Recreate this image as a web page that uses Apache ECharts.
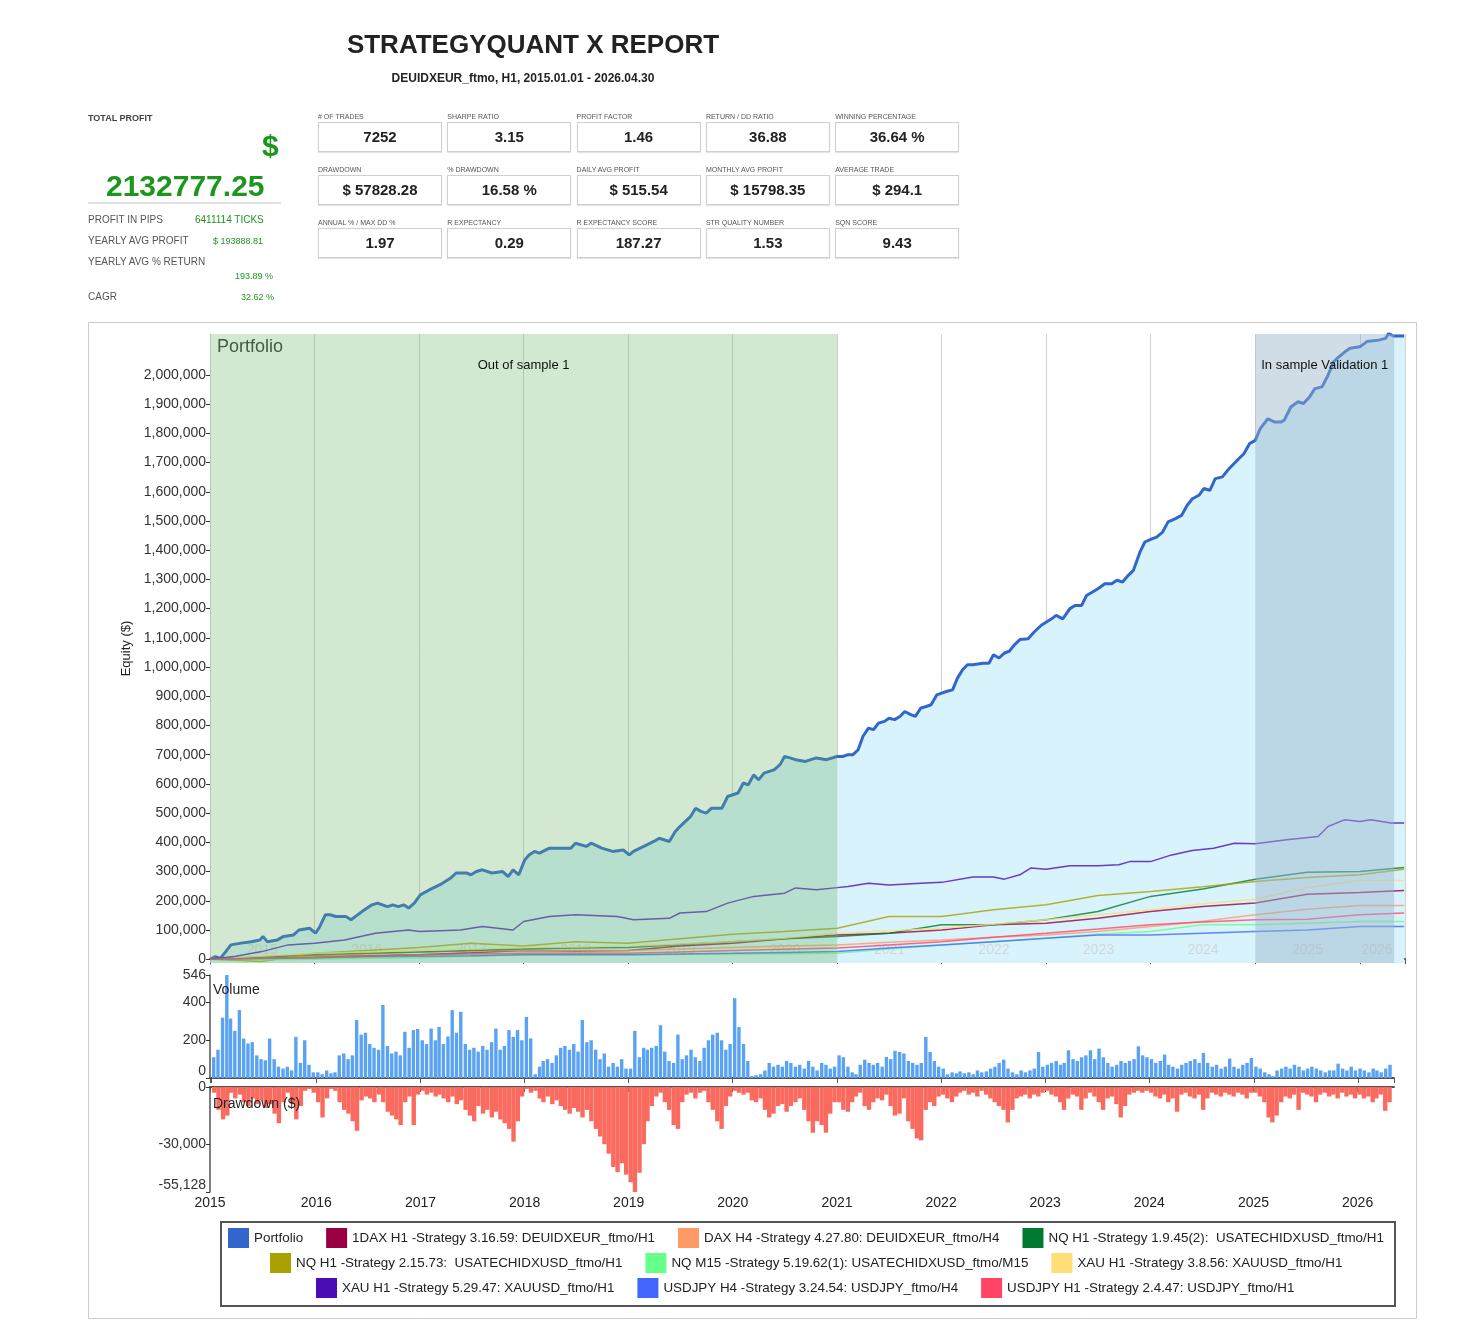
<!DOCTYPE html>
<html>
<head>
<meta charset="utf-8">
<script src="https://cdn.jsdelivr.net/npm/echarts@6/dist/echarts.min.js"></script>
<style>
body { margin: 0; background: #fff; font-family: "Liberation Sans", Arial, sans-serif; }
#main { position: absolute; left: 0; top: 0; width: 1480px; height: 1330px; }
#head { position: absolute; left: 0; top: 0; width: 1480px; height: 320px; z-index: 2; color: #333; }
#head div { position: absolute; white-space: nowrap; }
.green { color: #1e961e; }
.lbl { font-size: 7px; color: #555; }
.box { border: 1px solid #cfcfcf; box-shadow: 0 1px 1px #e4e4e4; text-align: center; font-weight: bold; font-size: 15px; line-height: 28px; color: #222; }
.small { font-size: 10px; color: #555; }
</style>
</head>
<body>
<div id="head"></div>
<div id="main"></div>
<script>
// ---- report numbers ----
const statLabels = [
    ['# OF TRADES', 'SHARPE RATIO', 'PROFIT FACTOR', 'RETURN / DD RATIO', 'WINNING PERCENTAGE'],
    ['DRAWDOWN', '% DRAWDOWN', 'DAILY AVG PROFIT', 'MONTHLY AVG PROFIT', 'AVERAGE TRADE'],
    ['ANNUAL % / MAX DD %', 'R EXPECTANCY', 'R EXPECTANCY SCORE', 'STR QUALITY NUMBER', 'SQN SCORE']
];
const statValues = [
    ['7252', '3.15', '1.46', '36.88', '36.64 %'],
    ['$ 57828.28', '16.58 %', '$ 515.54', '$ 15798.35', '$ 294.1'],
    ['1.97', '0.29', '187.27', '1.53', '9.43']
];

// ---- equity curves ----
const portfolio = [
    ['2015-01-02', 0], ['2015-01-20', 9000], ['2015-02-06', 3000], ['2015-02-25', 26000], ['2015-03-15', 49000],
    ['2015-04-20', 55000], ['2015-05-25', 60000], ['2015-06-25', 66000], ['2015-07-05', 78000], ['2015-07-20', 60000],
    ['2015-08-25', 66000], ['2015-09-15', 78000], ['2015-10-20', 83000], ['2015-11-08', 100000], ['2015-12-15', 106000],
    ['2016-01-05', 89000], ['2016-01-20', 112000], ['2016-02-08', 152000], ['2016-02-25', 152000], ['2016-03-15', 146000],
    ['2016-04-20', 146000], ['2016-05-08', 135000], ['2016-06-15', 163000], ['2016-07-20', 186000], ['2016-08-08', 192000],
    ['2016-09-12', 180000], ['2016-10-01', 186000], ['2016-10-20', 180000], ['2016-11-08', 186000], ['2016-11-25', 175000],
    ['2016-12-15', 192000], ['2017-01-05', 220000], ['2017-02-05', 237000], ['2017-03-15', 255000], ['2017-04-20', 277000],
    ['2017-05-10', 295000], ['2017-06-15', 295000], ['2017-07-01', 289000], ['2017-07-20', 300000], ['2017-08-10', 306000],
    ['2017-09-12', 295000], ['2017-10-20', 300000], ['2017-11-08', 283000], ['2017-11-25', 306000], ['2017-12-15', 289000],
    ['2018-01-05', 340000], ['2018-01-20', 357000], ['2018-02-08', 369000], ['2018-02-25', 363000], ['2018-04-01', 380000],
    ['2018-05-08', 380000], ['2018-06-15', 380000], ['2018-07-01', 397000], ['2018-08-08', 386000], ['2018-08-25', 397000],
    ['2018-10-01', 380000], ['2018-11-08', 369000], ['2018-12-15', 374000], ['2019-01-05', 357000], ['2019-01-20', 369000],
    ['2019-02-25', 386000], ['2019-04-01', 403000], ['2019-04-20', 414000], ['2019-05-25', 403000], ['2019-06-15', 437000],
    ['2019-07-01', 454000], ['2019-08-08', 489000], ['2019-08-25', 517000], ['2019-09-12', 506000], ['2019-10-01', 500000],
    ['2019-10-20', 517000], ['2019-11-25', 517000], ['2019-12-15', 557000], ['2020-01-20', 569000], ['2020-02-08', 603000],
    ['2020-02-25', 597000], ['2020-03-15', 631000], ['2020-04-01', 614000], ['2020-04-20', 637000], ['2020-05-25', 648000],
    ['2020-06-15', 666000], ['2020-07-01', 694000], ['2020-07-20', 689000], ['2020-08-08', 683000], ['2020-09-12', 677000],
    ['2020-10-20', 689000], ['2020-11-25', 683000], ['2020-12-31', 694000], ['2021-01-20', 694000], ['2021-02-08', 700000],
    ['2021-02-25', 700000], ['2021-03-15', 717000], ['2021-04-01', 763000], ['2021-04-20', 791000], ['2021-05-08', 786000],
    ['2021-05-25', 808000], ['2021-06-15', 814000], ['2021-07-01', 825000], ['2021-07-20', 820000], ['2021-08-08', 831000],
    ['2021-08-25', 848000], ['2021-09-15', 837000], ['2021-10-01', 831000], ['2021-10-20', 860000], ['2021-11-08', 865000],
    ['2021-11-25', 871000], ['2021-12-15', 905000], ['2022-01-01', 911000], ['2022-01-20', 917000], ['2022-02-08', 922000],
    ['2022-02-25', 962000], ['2022-03-15', 991000], ['2022-04-01', 1008000], ['2022-04-20', 1008000], ['2022-05-25', 1013000],
    ['2022-06-15', 1013000], ['2022-07-01', 1042000], ['2022-07-20', 1031000], ['2022-08-08', 1048000], ['2022-08-25', 1054000],
    ['2022-09-12', 1076000], ['2022-10-01', 1094000], ['2022-10-30', 1097000], ['2022-11-20', 1120000], ['2022-12-15', 1143000],
    ['2023-01-20', 1165000], ['2023-02-05', 1177000], ['2023-02-28', 1165000], ['2023-03-25', 1200000], ['2023-04-12', 1211000],
    ['2023-05-05', 1211000], ['2023-05-22', 1245000], ['2023-06-12', 1257000], ['2023-07-01', 1268000], ['2023-07-25', 1285000],
    ['2023-08-18', 1285000], ['2023-09-05', 1297000], ['2023-09-25', 1291000], ['2023-10-15', 1314000], ['2023-11-02', 1331000],
    ['2023-11-25', 1394000], ['2023-12-12', 1428000], ['2024-01-05', 1439000], ['2024-01-22', 1445000], ['2024-02-12', 1462000],
    ['2024-03-02', 1497000], ['2024-03-28', 1508000], ['2024-04-18', 1519000], ['2024-05-08', 1554000], ['2024-05-26', 1576000],
    ['2024-06-18', 1588000], ['2024-07-05', 1611000], ['2024-07-26', 1605000], ['2024-08-14', 1645000], ['2024-09-08', 1651000],
    ['2024-10-01', 1679000], ['2024-10-18', 1696000], ['2024-11-10', 1719000], ['2024-11-22', 1730000], ['2024-12-12', 1765000],
    ['2025-01-01', 1776000], ['2025-01-18', 1816000], ['2025-02-14', 1850000], ['2025-03-08', 1839000], ['2025-04-01', 1839000],
    ['2025-04-12', 1845000], ['2025-05-05', 1890000], ['2025-05-30', 1908000], ['2025-06-18', 1902000], ['2025-07-10', 1925000],
    ['2025-07-28', 1953000], ['2025-08-22', 1959000], ['2025-09-12', 1999000], ['2025-10-01', 2045000], ['2025-10-20', 2062000],
    ['2025-11-10', 2079000], ['2025-11-28', 2091000], ['2026-01-01', 2096000], ['2026-01-26', 2114000], ['2026-03-08', 2119000],
    ['2026-04-01', 2125000], ['2026-04-12', 2142000], ['2026-04-28', 2133000], ['2026-06-05', 2133000]
];

const halfYearDates = ['2015-01-01', '2015-07-01', '2016-01-01', '2016-07-01', '2017-01-01', '2017-07-01', '2018-01-01', '2018-07-01',
    '2019-01-01', '2019-07-01', '2020-01-01', '2020-07-01', '2021-01-01', '2021-07-01', '2022-01-01', '2022-07-01',
    '2023-01-01', '2023-07-01', '2024-01-01', '2024-07-01', '2025-01-01', '2025-07-01', '2026-01-01', '2026-06-05'];
const dax1H1 = [0, 5000, 10000, 12000, 15000, 22000, 30000, 28000, 30000, 45000, 55000, 70000, 83000, 89000, 100000, 118000, 123000, 140000, 163000, 180000, 192000, 222000, 228000, 235000];
const daxH4 = [0, 5000, 10000, 18000, 25000, 28000, 30000, 30000, 30000, 35000, 40000, 45000, 49000, 58000, 66000, 75000, 83000, 95000, 112000, 130000, 152000, 171000, 184000, 184000];
const nqH1a = [0, 8000, 15000, 20000, 25000, 30000, 35000, 38000, 40000, 50000, 60000, 70000, 78000, 89000, 118000, 118000, 135000, 163000, 215000, 240000, 274000, 298000, 300000, 314000];
const nqH1b = [0, -8000, 20000, 30000, 40000, 55000, 45000, 60000, 55000, 70000, 85000, 95000, 106000, 146000, 146000, 169000, 186000, 218000, 232000, 248000, 266000, 280000, 289000, 308000];
const nqM15 = [0, -2000, 0, 3000, 5000, 10000, 15000, 15000, 15000, 16000, 18000, 19000, 20000, 35000, 49000, 60000, 72000, 85000, 95000, 118000, 118000, 123000, 129000, 129000];
const xauH1a = [0, 10000, 20000, 25000, 30000, 35000, 40000, 42000, 45000, 52000, 60000, 72000, 89000, 97000, 106000, 120000, 135000, 152000, 169000, 190000, 205000, 245000, 269000, 269000];
const jpyH4 = [0, 2000, 5000, 8000, 10000, 12000, 15000, 15000, 15000, 18000, 20000, 23000, 26000, 38000, 49000, 60000, 72000, 83000, 83000, 89000, 95000, 100000, 112000, 112000];
const jpyH1 = [0, 3000, 5000, 10000, 15000, 18000, 20000, 20000, 20000, 25000, 30000, 34000, 38000, 49000, 60000, 75000, 89000, 103000, 118000, 127000, 135000, 137000, 152000, 158000];
const xauH1b = [
    ['2015-01-01', 0], ['2015-04-01', 10000], ['2015-07-01', 26000], ['2015-10-01', 49000], ['2016-01-01', 55000],
    ['2016-04-15', 66000], ['2016-08-01', 89000], ['2016-11-25', 100000], ['2017-01-01', 95000], ['2017-05-25', 100000],
    ['2017-08-10', 112000], ['2017-11-25', 100000], ['2018-01-01', 129000], ['2018-04-01', 146000], ['2018-07-01', 152000],
    ['2018-11-25', 146000], ['2019-01-20', 135000], ['2019-05-25', 140000], ['2019-07-01', 158000], ['2019-10-01', 163000],
    ['2019-12-15', 192000], ['2020-03-15', 215000], ['2020-07-01', 226000], ['2020-08-08', 244000], ['2020-10-20', 238000],
    ['2021-01-01', 245000], ['2021-02-08', 249000], ['2021-04-20', 260000], ['2021-07-01', 254000], ['2021-10-20', 260000],
    ['2022-01-01', 263000], ['2022-04-20', 281000], ['2022-07-01', 281000], ['2022-08-08', 274000], ['2022-10-01', 289000],
    ['2022-11-08', 312000], ['2023-01-01', 308000], ['2023-03-25', 320000], ['2023-07-01', 320000], ['2023-09-12', 323000],
    ['2023-10-20', 334000], ['2024-01-01', 334000], ['2024-03-15', 357000], ['2024-05-25', 372000], ['2024-08-08', 380000],
    ['2024-10-20', 397000], ['2025-01-01', 395000], ['2025-04-20', 409000], ['2025-08-08', 420000], ['2025-09-12', 454000],
    ['2025-11-08', 477000], ['2026-01-01', 471000], ['2026-02-08', 477000], ['2026-04-20', 466000], ['2026-06-05', 466000]
];

const seriesNames = ['Portfolio', '1DAX H1 -Strategy 3.16.59: DEUIDXEUR_ftmo/H1', 'DAX H4 -Strategy 4.27.80: DEUIDXEUR_ftmo/H4',
    'NQ H1 -Strategy 1.9.45(2):  USATECHIDXUSD_ftmo/H1', 'NQ H1 -Strategy 2.15.73:  USATECHIDXUSD_ftmo/H1',
    'NQ M15 -Strategy 5.19.62(1): USATECHIDXUSD_ftmo/M15', 'XAU H1 -Strategy 3.8.56: XAUUSD_ftmo/H1',
    'XAU H1 -Strategy 5.29.47: XAUUSD_ftmo/H1', 'USDJPY H4 -Strategy 3.24.54: USDJPY_ftmo/H4', 'USDJPY H1 -Strategy 2.4.47: USDJPY_ftmo/H1'];
const seriesColors = ['#3366cc', '#990044', '#ff9966', '#007a33', '#aaa000', '#66ff88', '#ffdd77', '#4a0cb4', '#4466ff', '#ff4466'];

// ---- volume / drawdown, two buckets per month from 2015-01 ----
const volume = [
    110, 150, 320, 546, 315, 250, 360, 209, 183, 190, 120, 100, 94, 209, 100, 60, 50, 60, 40, 218, 80, 200, 70, 30,
    30, 20, 40, 25, 30, 120, 130, 100, 120, 307, 230, 240, 180, 160, 150, 387, 170, 130, 140, 120, 245, 160, 254, 260,
    200, 180, 262, 200, 271, 180, 220, 360, 240, 351, 180, 150, 160, 140, 170, 150, 190, 262, 150, 170, 254, 218, 254, 200,
    324, 210, 20, 60, 90, 100, 80, 120, 160, 170, 150, 180, 140, 307, 190, 200, 150, 100, 130, 60, 80, 60, 100, 50,
    50, 250, 110, 160, 150, 160, 170, 280, 140, 90, 80, 230, 100, 120, 150, 110, 90, 160, 200, 230, 240, 200, 150, 180,
    423, 270, 180, 90, 10, 15, 20, 40, 80, 60, 70, 60, 90, 80, 60, 70, 50, 90, 60, 40, 80, 70, 50, 60,
    120, 110, 60, 30, 20, 70, 97, 80, 70, 80, 60, 112, 100, 144, 138, 130, 90, 80, 70, 80, 218, 138, 90, 60,
    50, 20, 30, 25, 35, 25, 30, 20, 40, 30, 35, 50, 60, 80, 97, 50, 30, 20, 40, 30, 40, 50, 138, 60,
    70, 80, 90, 70, 80, 147, 100, 90, 110, 120, 147, 100, 156, 110, 80, 60, 70, 90, 80, 90, 100, 168, 120, 110,
    100, 80, 90, 124, 70, 60, 50, 70, 80, 90, 100, 80, 133, 80, 60, 70, 50, 60, 103, 60, 50, 70, 80, 106,
    60, 50, 30, 20, 10, 40, 50, 60, 50, 70, 60, 40, 50, 60, 50, 40, 30, 40, 40, 76, 50, 40, 60, 40,
    50, 40, 30, 50, 40, 30, 50, 70
];
const drawdown = [
    -3000, -12000, -17000, -15000, -3000, -6000, -4000, -8000, -10000, -6000, -9000, -7000, -11000, -9000, -14000, -19000, -8000, -3000, -9000, -17000, -10000, -2000, -1000, -3000,
    -8000, -16000, -6000, -1000, -2000, -8000, -12000, -14000, -18000, -23000, -7000, -5000, -6000, -8000, -4000, -8000, -13000, -15000, -17000, -20000, -8000, -5000, -20000, -4000,
    -2000, -4000, -3000, -5000, -4000, -6000, -8000, -5000, -9000, -7000, -12000, -15000, -18000, -10000, -14000, -12000, -16000, -13000, -17000, -19000, -22000, -28700, -18000, -5000,
    -1000, -3000, -2000, -6000, -8000, -5000, -9000, -7000, -10000, -12000, -14000, -11000, -13000, -16000, -12000, -18000, -22000, -26000, -30000, -35000, -42000, -44700, -40000, -46000,
    -50000, -55128, -45000, -30000, -18000, -10000, -5000, -3000, -8000, -12000, -20000, -22000, -8000, -4000, -3000, -6000, -3000, -2000, -8000, -12000, -18000, -22000, -10000, -5000,
    -2000, -3000, -4000, -3000, -7000, -8000, -6000, -12000, -16000, -14000, -10000, -9000, -13000, -10000, -8000, -6000, -12000, -18000, -24000, -18000, -20000, -24000, -14000, -8000,
    -8000, -12000, -13000, -8000, -5000, -3000, -10000, -12000, -8000, -6000, -7000, -4000, -10000, -15000, -14000, -6000, -18000, -22000, -27000, -28000, -12000, -8000, -10000, -5000,
    -4000, -6000, -8000, -5000, -3000, -2000, -4000, -3000, -5000, -2000, -4000, -6000, -8000, -10000, -12000, -18600, -12000, -6000, -5000, -4000, -6000, -4000, -5000, -3000,
    -2000, -4000, -5000, -8000, -12000, -6000, -4000, -5000, -12000, -6000, -3000, -5000, -8000, -12000, -6000, -5000, -9000, -16000, -10000, -4000, -3000, -2000, -3000, -2000,
    -3000, -5000, -6000, -4000, -8000, -6000, -13000, -4000, -3000, -5000, -6000, -4000, -12000, -6000, -3000, -4000, -5000, -3000, -4000, -5000, -3000, -4000, -6000, -3000,
    -3000, -5000, -8000, -16000, -18600, -15000, -8000, -5000, -6000, -4000, -12000, -3000, -4000, -5000, -8000, -4000, -3000, -5000, -4000, -6000, -3000, -5000, -4000, -6000,
    -4000, -6000, -5000, -8000, -6000, -4000, -12500, -8000
];

const equityTicks = [0, 100000, 200000, 300000, 400000, 500000, 600000, 700000, 800000, 900000, 1000000,
    1100000, 1200000, 1300000, 1400000, 1500000, 1600000, 1700000, 1800000, 1900000, 2000000];
const volumeTicks = [0, 200, 400, 546];
const drawdownTicks = [-55128, -30000, 0];
const outOfSample = ['2015-01-01', '2021-01-01'];
const validation = ['2025-01-01', '2026-05-01'];

// ---- header ----
function put(html, css, cls) {
    let d = document.createElement('div');
    d.innerHTML = html;
    if (cls) d.className = cls;
    Object.assign(d.style, css);
    document.getElementById('head').appendChild(d);
}
put('STRATEGYQUANT X REPORT', {left: '233px', width: '600px', top: '29px', textAlign: 'center', fontSize: '26px', fontWeight: 'bold', color: '#222'});
put('DEUIDXEUR_ftmo, H1, 2015.01.01 - 2026.04.30', {left: '323px', width: '400px', top: '71px', textAlign: 'center', fontSize: '12px', fontWeight: 'bold', color: '#222'});
put('TOTAL PROFIT', {left: '88px', top: '113px', fontSize: '9px', fontWeight: 'bold', color: '#444'});
put('$', {left: '262px', top: '129px', fontSize: '30px', fontWeight: 'bold'}, 'green');
put('2132777.25', {left: '106px', top: '169px', fontSize: '30px', fontWeight: 'bold'}, 'green');
put('', {left: '88px', top: '202px', width: '193px', borderTop: '2px solid #e2e2e2'});
put('PROFIT IN PIPS', {left: '88px', top: '214px'}, 'small');
put('6411114 TICKS', {left: '195px', top: '214px', fontSize: '10px'}, 'green');
put('YEARLY AVG PROFIT', {left: '88px', top: '235px'}, 'small');
put('$ 193888.81', {left: '213px', top: '236px', fontSize: '9px'}, 'green');
put('YEARLY AVG % RETURN', {left: '88px', top: '256px'}, 'small');
put('193.89 %', {left: '203px', width: '70px', textAlign: 'right', top: '271px', fontSize: '9px'}, 'green');
put('CAGR', {left: '88px', top: '291px'}, 'small');
put('32.62 %', {left: '204px', width: '70px', textAlign: 'right', top: '292px', fontSize: '9px'}, 'green');
for (let r = 0; r < 3; r++) {
    for (let c = 0; c < 5; c++) {
        let x = 318 + c * 129.3;
        put(statLabels[r][c], {left: x + 'px', top: (113 + r * 53) + 'px'}, 'lbl');
        put(statValues[r][c], {left: x + 'px', top: (122 + r * 53) + 'px', width: '122px', height: '28px'}, 'box');
    }
}

// ---- chart ----
function halfMonthDate(i) {
    let y = 2015 + Math.floor(i / 24), m = Math.floor((i % 24) / 2) + 1;
    return y + '-' + String(m).padStart(2, '0') + (i % 2 ? '-23' : '-08');
}
const volData = volume.map((v, i) => [halfMonthDate(i), v]);
const ddData = drawdown.map((v, i) => [halfMonthDate(i), v]);

const strategyValues = [dax1H1, daxH4, nqH1a, nqH1b, nqM15, xauH1a, null, jpyH4, jpyH1];
const DAY = 24 * 3600 * 1000;
const font = '"Liberation Sans", Arial, sans-serif';

function timeAxis(gridIndex, max, showLabel) {
    return {
        type: 'time', gridIndex: gridIndex, min: '2015-01-01', max: max,
        minInterval: 365 * DAY, maxInterval: 367 * DAY,
        axisLine: {lineStyle: {color: '#555', width: 2}},
        axisTick: {show: true, length: 5, lineStyle: {color: '#555'}},
        axisLabel: {show: showLabel, color: '#222', fontSize: 14, fontFamily: font, margin: 4,
            showMinLabel: true, showMaxLabel: false,
            formatter: v => String(new Date(v + 10 * DAY).getFullYear())},
        splitLine: {show: gridIndex === 0, lineStyle: {color: '#d2d2d2'}}
    };
}

let series = [];
series.push({
    name: seriesNames[0], type: 'line', xAxisIndex: 0, yAxisIndex: 0, z: 2,
    data: portfolio, showSymbol: false, symbol: 'none',
    lineStyle: {color: seriesColors[0], width: 3},
    itemStyle: {color: seriesColors[0]},
    areaStyle: {color: '#d9f3fd', opacity: 1, origin: 'start'}
});
for (let i = 1; i < seriesNames.length; i++) {
    let vals = strategyValues[i - 1];
    let data = vals ? halfYearDates.map((d, k) => [d, vals[k]]) : xauH1b;
    series.push({
        name: seriesNames[i], type: 'line', xAxisIndex: 0, yAxisIndex: 0, z: 3,
        data: data, symbol: 'none',
        lineStyle: {color: seriesColors[i], width: 1.5, opacity: 0.8},
        itemStyle: {color: seriesColors[i]}
    });
}
// shaded periods drawn over the curves
series.push({
    type: 'line', xAxisIndex: 0, yAxisIndex: 0, z: 10, data: [], silent: true,
    markArea: {
        silent: true, z: 10,
        data: [
            [{xAxis: outOfSample[0], itemStyle: {color: 'rgba(105,178,98,0.3)'},
                label: {show: true, position: 'insideTop', distance: 25, formatter: 'Out of sample 1', color: '#111', fontSize: 13, fontFamily: font}},
                {xAxis: outOfSample[1]}],
            [{xAxis: validation[0], itemStyle: {color: 'rgba(150,180,200,0.45)'},
                label: {show: true, position: 'insideTop', distance: 25, formatter: 'In sample Validation 1', color: '#111', fontSize: 13, fontFamily: font}},
                {xAxis: validation[1]}]
        ]
    }
});
series.push({
    type: 'line', xAxisIndex: 0, yAxisIndex: 0, z: 1, data: [], silent: true,
    markArea: {silent: true, z: 0, data: [[{xAxis: validation[1], itemStyle: {color: '#d9f3fd'}}, {xAxis: '2026-06-08'}]]}
});
series.push({
    type: 'bar', xAxisIndex: 1, yAxisIndex: 1, data: volData, barWidth: 3.4,
    itemStyle: {color: '#5aa2f2'}, silent: true
});
series.push({
    type: 'bar', xAxisIndex: 2, yAxisIndex: 2, data: ddData, barWidth: 4.4,
    itemStyle: {color: '#fb6a5f'}, silent: true
});

const legendBase = {
    icon: 'rect', itemWidth: 21, itemHeight: 20, itemGap: 23, padding: 0, selectedMode: false,
    textStyle: {fontSize: 13.4, color: '#222', fontFamily: font}
};

const option = {
    animation: false,
    textStyle: {fontFamily: font},
    title: [
        {text: 'Portfolio', left: 217, top: 338, padding: 0, textStyle: {fontSize: 18, fontWeight: 'normal', color: '#333', fontFamily: font}},
        {text: 'Volume', left: 213, top: 983, padding: 0, textStyle: {fontSize: 14, fontWeight: 'normal', color: '#222', fontFamily: font}},
        {text: 'Drawdown ($)', left: 213, top: 1097, padding: 0, textStyle: {fontSize: 14, fontWeight: 'normal', color: '#222', fontFamily: font}}
    ],
    legend: [
        Object.assign({data: seriesNames.slice(0, 4), left: 228, top: 1228}, legendBase),
        Object.assign({data: seriesNames.slice(4, 7), left: 270, top: 1253}, legendBase),
        Object.assign({data: seriesNames.slice(7), left: 316, top: 1278}, legendBase)
    ],
    grid: [
        {left: 210, top: 334, width: 1195, height: 629},
        {left: 210, top: 975, width: 1184, height: 103},
        {left: 210, top: 1087, width: 1184, height: 105}
    ],
    xAxis: [
        timeAxis(0, '2026-06-08', false),
        timeAxis(1, validation[1], false),
        timeAxis(2, validation[1], true)
    ],
    yAxis: [
        {
            type: 'value', gridIndex: 0, min: -13000, max: 2140000,
            name: 'Equity ($)', nameLocation: 'middle', nameGap: 76, nameRotate: 90,
            nameTextStyle: {fontSize: 13, color: '#222', fontFamily: font},
            axisLine: {show: false},
            axisTick: {show: true, length: 4, customValues: equityTicks, lineStyle: {color: '#333'}},
            axisLabel: {customValues: equityTicks, fontSize: 14, color: '#333', margin: 4, fontFamily: font,
                formatter: v => v.toLocaleString('en-US')},
            splitLine: {show: false}
        },
        {
            type: 'value', gridIndex: 1, min: 0, max: 546,
            axisLine: {show: true, lineStyle: {color: '#555', width: 1.5}},
            axisTick: {show: true, length: 4, customValues: volumeTicks, lineStyle: {color: '#333'}},
            axisLabel: {customValues: volumeTicks, fontSize: 14, color: '#333', margin: 4, fontFamily: font,
                verticalAlignMinLabel: 'bottom'},
            splitLine: {show: false}
        },
        {
            type: 'value', gridIndex: 2, min: -55128, max: 0,
            axisLine: {show: true, lineStyle: {color: '#555', width: 1.5}},
            axisTick: {show: true, length: 4, customValues: drawdownTicks, lineStyle: {color: '#333'}},
            axisLabel: {customValues: drawdownTicks, fontSize: 14, color: '#333', margin: 4, fontFamily: font,
                verticalAlignMinLabel: 'bottom', formatter: v => v.toLocaleString('en-US')},
            splitLine: {show: false}
        }
    ],
    series: series
};

let chart = echarts.init(document.getElementById('main'), null, {renderer: 'canvas'});
chart.setOption(option);

// frame, legend box and the faint year captions inside the equity panel
let graphics = [
    {type: 'rect', shape: {x: 88.5, y: 322.5, width: 1328, height: 996}, style: {fill: 'none', stroke: '#cccccc', lineWidth: 1}, silent: true},
    {type: 'rect', shape: {x: 221, y: 1222, width: 1174, height: 84}, style: {fill: 'none', stroke: '#555', lineWidth: 2}, silent: true}
];
let endT = Date.parse(validation[1]);
for (let y = 2015; y <= 2026; y++) {
    let a = Date.parse(y + '-01-01'), b = Math.min(Date.parse((y + 1) + '-01-01'), endT);
    let px = chart.convertToPixel({xAxisIndex: 0}, (a + b) / 2);
    graphics.push({
        type: 'text', x: px, y: 950, z: 2.5, silent: true,
        style: {text: String(y), fill: '#d3d7da', fontSize: 14, fontFamily: font, align: 'center', verticalAlign: 'middle'}
    });
}
chart.setOption({graphic: graphics});
</script>
</body>
</html>
